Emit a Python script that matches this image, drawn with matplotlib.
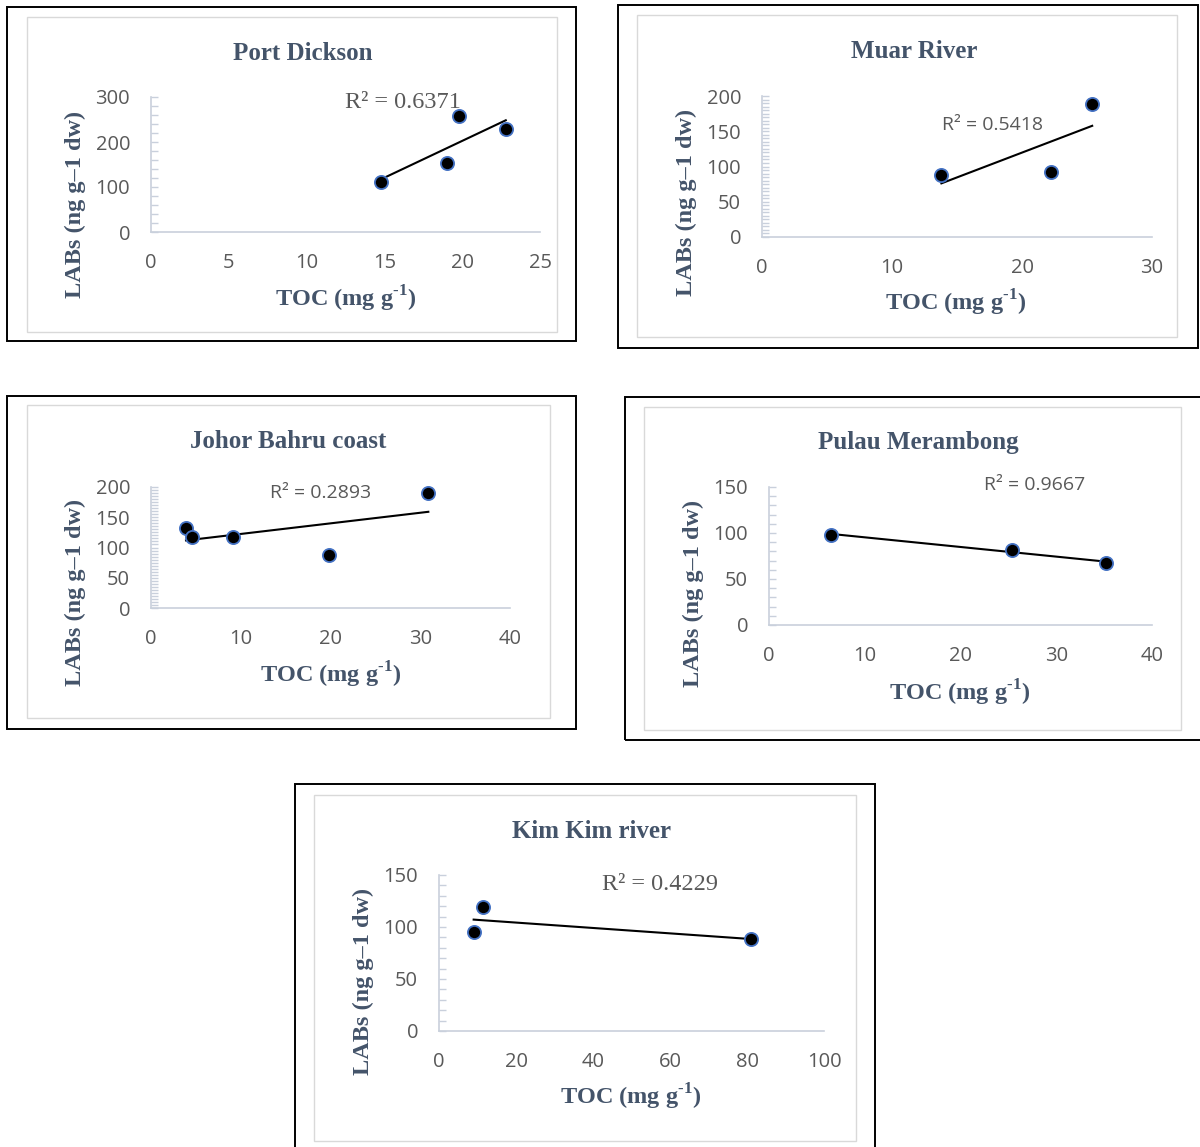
import numpy as np
import matplotlib
matplotlib.use("Agg")
import matplotlib.pyplot as plt
from matplotlib.patches import Rectangle
from matplotlib.ticker import MultipleLocator

# values
TITLES = ["Port Dickson", "Muar River", "Johor Bahru coast", "Pulau Merambong", "Kim Kim river"]

PD_TOC = [14.8, 19.0, 19.8, 22.8]
PD_LABS = [111, 154, 257, 229]

MR_TOC = [13.8, 22.2, 25.4]
MR_LABS = [88, 92, 189]

JB_TOC = [3.9, 4.6, 9.1, 19.8, 30.9]
JB_LABS = [132, 117, 117, 88, 190]

PM_TOC = [6.5, 25.4, 35.2]
PM_LABS = [98, 82, 67]

KK_TOC = [9.0, 11.5, 81.0]
KK_LABS = [95, 119, 88]

R2_TEXT = ["R² = 0.6371", "R² = 0.5418", "R² = 0.2893", "R² = 0.9667", "R² = 0.4229"]

X_MAX = [25, 30, 40, 40, 100]
X_STEP = [5, 10, 10, 10, 20]
Y_MAX = [300, 200, 200, 150, 150]
Y_STEP = [100, 50, 50, 50, 50]
Y_MINOR = [20, 5, 5, 10, 10]

X_LABEL = "TOC (mg g$^{\\mathbf{\u2010}\\mathbf{1}}$)"
Y_LABEL = "LABs (ng g–1 dw)"

W, H = 1200, 1147
TITLE_COLOR = "#44546A"
TICK_COLOR = "#595959"
AXIS_COLOR = "#C9D0DC"


def fx(x):
    return x / W


def fy(y):
    return 1 - y / H


# pixel layout of each panel: outer box, inner box, plot area, text centres
PANELS = [
    dict(outer=(7, 7, 576, 341), inner=(27, 17, 557, 332), plot=(151, 540, 232, 97),
         title=(303, 53), xlab=(346, 299), ylab=(75, 204), r2=(403, 102), r2serif=True),
    dict(outer=(618, 5, 1198, 348), inner=(637, 15, 1177, 337), plot=(762, 1152, 237, 96),
         title=(914, 51), xlab=(956, 303), ylab=(686, 202), r2=(993, 125), r2serif=False),
    dict(outer=(7, 396, 576, 729), inner=(27, 405, 550, 718), plot=(151, 510, 608, 487),
         title=(288, 442), xlab=(331, 675), ylab=(75, 592), r2=(321, 493), r2serif=False),
    dict(outer=(625, 397, 1203, 740), inner=(644, 407, 1181, 730), plot=(769, 1152, 625, 487),
         title=(918, 442), xlab=(960, 693), ylab=(693, 593), r2=(1035, 485), r2serif=False),
    dict(outer=(295, 784, 875, 1152), inner=(314, 795, 856, 1141), plot=(439, 824, 1031, 875),
         title=(591, 831), xlab=(631, 1097), ylab=(363, 981), r2=(660, 885), r2serif=True),
]


def draw_box(fig, box, color, lw):
    x0, y0, x1, y1 = box
    fig.add_artist(Rectangle((fx(x0), fy(y1)), (x1 - x0) / W, (y1 - y0) / H,
                             transform=fig.transFigure, fill=False,
                             edgecolor=color, linewidth=lw, zorder=0))


def draw_panel(fig, i, toc, labs):
    """
    One scatter panel with a linear trend line, framed like the Excel chart.
    """
    p = PANELS[i]
    draw_box(fig, p["outer"], "black", 1.4)
    draw_box(fig, p["inner"], "#D9D9D9", 1.0)

    x0, x1, yb, yt = p["plot"]
    ax = fig.add_axes([fx(x0), fy(yb), (x1 - x0) / W, (yb - yt) / H])
    ax.patch.set_alpha(0)
    ax.set_xlim(0, X_MAX[i])
    ax.set_ylim(0, Y_MAX[i])
    ax.xaxis.set_major_locator(MultipleLocator(X_STEP[i]))
    ax.yaxis.set_major_locator(MultipleLocator(Y_STEP[i]))
    ax.yaxis.set_minor_locator(MultipleLocator(Y_MINOR[i]))
    for side in ["top", "right"]:
        ax.spines[side].set_visible(False)
    for side in ["left", "bottom"]:
        ax.spines[side].set_color(AXIS_COLOR)
        ax.spines[side].set_linewidth(1.2)
    ax.tick_params(axis="x", length=0, pad=15, labelsize=14.5, labelcolor=TICK_COLOR)
    ax.tick_params(axis="y", which="both", direction="in", length=5, width=1,
                   color=AXIS_COLOR, pad=15, labelsize=14.5, labelcolor=TICK_COLOR)
    for lab in ax.get_xticklabels() + ax.get_yticklabels():
        lab.set_fontfamily("Open Sans")

    slope, icpt = np.polyfit(toc, labs, 1)
    xs = np.array([min(toc), max(toc)])
    ax.plot(xs, slope * xs + icpt, color="black", linewidth=1.5, zorder=2, clip_on=False)
    ax.scatter(toc, labs, s=90, color="black", edgecolors="#4472C4",
               linewidths=1.3, zorder=3, clip_on=False)

    serif = dict(family="Liberation Serif", weight="bold", color=TITLE_COLOR)
    fig.text(fx(p["title"][0]), fy(p["title"][1]), TITLES[i], ha="center", va="center",
             fontsize=18, **serif)
    fig.text(fx(p["xlab"][0]), fy(p["xlab"][1]), X_LABEL, ha="center", va="center",
             fontsize=17.5, **serif)
    fig.text(fx(p["ylab"][0]), fy(p["ylab"][1]), Y_LABEL, ha="center", va="center",
             rotation=90, fontsize=17.5, **serif)
    if p["r2serif"]:
        fig.text(fx(p["r2"][0]), fy(p["r2"][1]), R2_TEXT[i], ha="center", va="center",
                 fontsize=17.5, family="Liberation Serif", color=TICK_COLOR)
    else:
        fig.text(fx(p["r2"][0]), fy(p["r2"][1]), R2_TEXT[i], ha="center", va="center",
                 fontsize=14, family="Open Sans", color=TICK_COLOR)


def main():
    plt.rcParams["mathtext.fontset"] = "custom"
    plt.rcParams["mathtext.rm"] = "Liberation Serif"
    plt.rcParams["mathtext.bf"] = "Liberation Serif:bold"

    fig = plt.figure(figsize=(12, 11.47), dpi=100)
    fig.patch.set_facecolor("white")

    data = [(PD_TOC, PD_LABS), (MR_TOC, MR_LABS), (JB_TOC, JB_LABS),
            (PM_TOC, PM_LABS), (KK_TOC, KK_LABS)]
    for i, (toc, labs) in enumerate(data):
        draw_panel(fig, i, toc, labs)

    fig.savefig("out.png", dpi=100)


if __name__ == "__main__":
    main()
